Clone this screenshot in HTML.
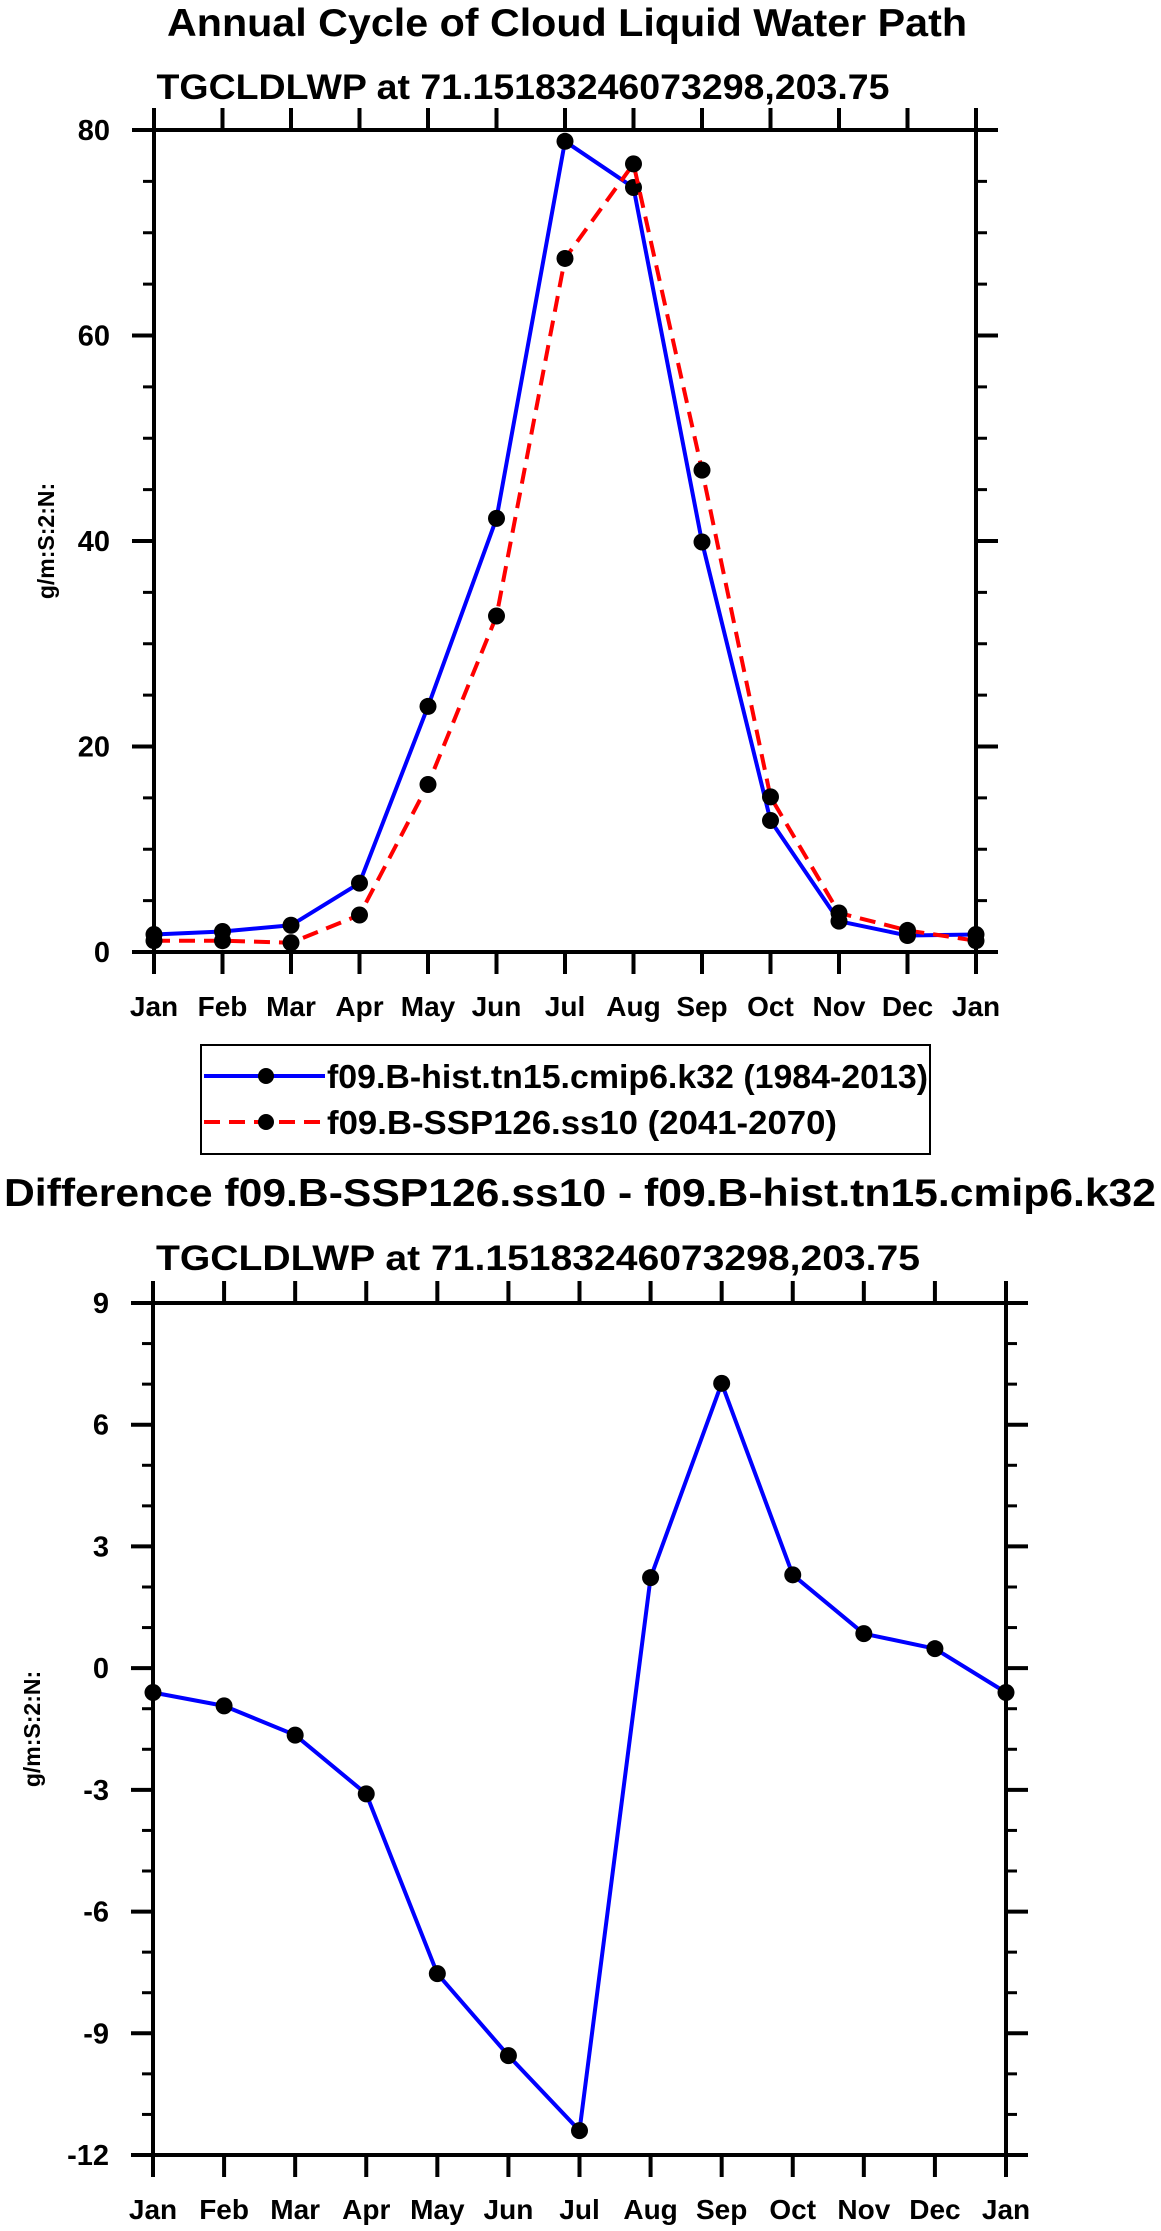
<!DOCTYPE html>
<html><head><meta charset="utf-8"><style>
html,body{margin:0;padding:0;background:#fff;}
svg{display:block;font-family:"Liberation Sans",Arial,sans-serif;font-weight:bold;}
</style></head><body>
<svg id="chart" width="1161" height="2231" viewBox="0 0 1161 2231" xmlns="http://www.w3.org/2000/svg">
<text x="567" y="36" font-size="39" text-anchor="middle" textLength="800" lengthAdjust="spacingAndGlyphs">Annual Cycle of Cloud Liquid Water Path</text>
<text x="523" y="99" font-size="35" text-anchor="middle" textLength="733" lengthAdjust="spacingAndGlyphs">TGCLDLWP at 71.15183246073298,203.75</text>
<g id="top"></g>
<g>
<rect x="201" y="1045" width="729" height="109" fill="none" stroke="#000" stroke-width="2"/>
<g>
<line x1="204" y1="1076" x2="325" y2="1076" stroke="#0000ff" stroke-width="4"/>
<circle cx="266" cy="1076" r="8" fill="#000"/>
<text x="327" y="1088" font-size="33" textLength="601" lengthAdjust="spacingAndGlyphs">f09.B-hist.tn15.cmip6.k32 (1984-2013)</text>
</g>
<g>
<line x1="204" y1="1122" x2="325" y2="1122" stroke="#ff0000" stroke-width="4" stroke-dasharray="16,9"/>
<circle cx="266" cy="1122" r="8" fill="#000"/>
<text x="327" y="1134" font-size="33" textLength="510" lengthAdjust="spacingAndGlyphs">f09.B-SSP126.ss10 (2041-2070)</text>
</g>
</g>
<text x="580" y="1206" font-size="39" text-anchor="middle" textLength="1152" lengthAdjust="spacingAndGlyphs">Difference f09.B-SSP126.ss10 - f09.B-hist.tn15.cmip6.k32</text>
<text x="538" y="1270" font-size="35" text-anchor="middle" textLength="764" lengthAdjust="spacingAndGlyphs">TGCLDLWP at 71.15183246073298,203.75</text>
<g id="bot"></g>
</svg>
<script>
const months = ["Jan","Feb","Mar","Apr","May","Jun","Jul","Aug","Sep","Oct","Nov","Dec","Jan"];
const histValues = [1.7,2.0,2.6,6.7,23.9,42.2,78.9,74.4,39.9,12.8,3.0,1.6,1.7];
const sspValues = [1.1,1.1,0.9,3.6,16.3,32.7,67.5,76.7,46.9,15.1,3.8,2.1,1.1];
const diffValues = [-0.6,-0.93,-1.65,-3.1,-7.53,-9.55,-11.4,2.23,7.02,2.3,0.85,0.48,-0.6];
const topTicks = [0,20,40,60,80];
const botTicks = [-12,-9,-6,-3,0,3,6,9];

const NS="http://www.w3.org/2000/svg";
function mk(p,tag,attrs){const e=document.createElementNS(NS,tag);for(const k in attrs)e.setAttribute(k,attrs[k]);p.appendChild(e);return e;}

function drawPlot(g,L,R,T,B,ymin,ymax,ticks,minorStep,series,titleX){
  const xs=i=>L+(R-L)*i/(months.length-1);
  const ys=v=>B-(B-T)*(v-ymin)/(ymax-ymin);
  for(let v=ymin;v<=ymax+1e-9;v+=minorStep){
    const y=ys(v);
    const t1=mk(g,'line',{x1:L-11,y1:y,x2:L,y2:y,stroke:'#000','stroke-width':3});
    
    
    const t2=mk(g,'line',{x1:R,y1:y,x2:R+11,y2:y,stroke:'#000','stroke-width':3});
    
    
  }
  ticks.forEach(v=>{
    const y=ys(v);
    const a=mk(g,'line',{x1:L-22,y1:y,x2:L,y2:y,stroke:'#000','stroke-width':4});
    
    
    const b=mk(g,'line',{x1:R,y1:y,x2:R+22,y2:y,stroke:'#000','stroke-width':4});
    
    
    const t=mk(g,'text',{x:L-44,y:y+10,'font-size':29,'text-anchor':'end'});
    t.textContent=String(v);
    
    
  });
  months.forEach((m,i)=>{
    const x=xs(i);
    const a=mk(g,'line',{x1:x,y1:B,x2:x,y2:B+22,stroke:'#000','stroke-width':4});
    
    
    const b=mk(g,'line',{x1:x,y1:T-22,x2:x,y2:T,stroke:'#000','stroke-width':4});
    
    
    const t=mk(g,'text',{x:x,y:B+64,'font-size':28,'text-anchor':'middle'});
    t.textContent=m;
    
    
  });
  const fr=mk(g,'rect',{x:L,y:T,width:R-L,height:B-T,fill:'none',stroke:'#000','stroke-width':4});
  
  
  const yt=mk(g,'text',{x:0,y:0,'font-size':23,'text-anchor':'middle',transform:`translate(${titleX},${(T+B)/2}) rotate(-90)`});
  yt.textContent='g/m:S:2:N:';
  
  
  series.forEach(s=>{
    const pts=s.values.map((v,i)=>xs(i)+','+ys(v)).join(' ');
    const pl=mk(g,'polyline',{points:pts,fill:'none',stroke:s.color,'stroke-width':4,'stroke-dasharray':s.dash||'none','stroke-linejoin':'round'});
    
    
    s.values.forEach((v,i)=>{
      const c=mk(g,'circle',{cx:xs(i),cy:ys(v),r:8.5,fill:'#000'});
      
      
    });
  });
}
drawPlot(document.getElementById('top'),154,976,130,952,0,80,topTicks,5,
  [{values:histValues,color:'#0000ff',name:'hist'},{values:sspValues,color:'#ff0000',dash:'16,9',name:'ssp'}],54);
drawPlot(document.getElementById('bot'),153,1006,1303,2155,-12,9,botTicks,1,
  [{values:diffValues,color:'#0000ff',name:'diff'}],40);
</script>
</body></html>
